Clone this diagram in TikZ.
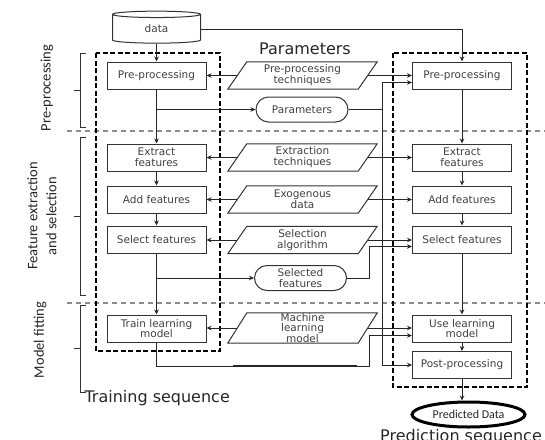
\documentclass[tikz,border=0pt]{standalone}
\usepackage{fontspec}
\setmainfont{DejaVu Sans}
\newfontfamily\calib{Carlito}
\usetikzlibrary{arrows.meta,shapes.geometric,shapes.misc}
\begin{document}
\begin{tikzpicture}[x=1pt,y=-1pt,
  line/.style={draw=black!85, line width=1pt},
  arr/.style={line, -{Stealth[length=5pt,width=4.5pt]}},
  boxfont/.style={font=\fontsize{10.5}{10.8}\selectfont, text=black!75},
  procbox/.style={boxfont, draw=black!80, line width=1pt, minimum width=99pt, minimum height=27pt, inner sep=1pt, align=center},
  ptext/.style={boxfont, minimum width=130pt, minimum height=27pt, inner sep=0pt, align=center},
  term/.style={boxfont, rounded rectangle, draw=black!80, line width=1pt, minimum width=94pt, minimum height=25pt, inner sep=1pt, align=center},
  frame/.style={draw=black, line width=2pt, dash pattern=on 5pt off 2.5pt},
  sep/.style={draw=black!45, line width=1.2pt, dash pattern=on 5pt off 4pt},
  brace/.style={draw=black!80, line width=0.9pt},
  sidelab/.style={font=\calib\fontsize{14.5}{19}\selectfont, rotate=90, align=center, text=black!85},
  biglab/.style={font=\fontsize{16}{18}\selectfont, text=black!85},
]
\useasboundingbox (0,0) rectangle (545,439);

% separators
\draw[sep] (67,131) -- (545,131);
\draw[sep] (67,303) -- (545,303);

% brackets
\draw[brace] (86,53) -- (80,53) -- (80,127) -- (86,127);
\draw[brace] (80,90) -- (74,90);
\draw[brace] (86,137) -- (80,137) -- (80,295) -- (86,295);
\draw[brace] (80,216) -- (74,216);
\draw[brace] (86,305) -- (80,305) -- (80,392) -- (86,392);
\draw[brace] (80,348) -- (74,348);

% side labels
\node[sidelab] (s1) at (47,88) {Pre-processing};
\node[sidelab] (s2) at (42,216) {Feature extraction\\and selection};
\node[sidelab] (s3) at (40,340) {Model fitting};

% frames
\draw[frame] (96,53) rectangle (220,351);
\draw[frame] (393,53) rectangle (527,387);

% data cylinder
\node[cylinder, draw=black!80, line width=1pt, shape border rotate=90, aspect=0.27,
  minimum width=88pt, minimum height=32pt, inner sep=0pt, boxfont] (data) at (156.5,29) {\raisebox{-4pt}{data}};

% title
\node[biglab] (title) at (305,49) {Parameters};

% left column
\node[procbox] (lpre) at (156.5,75.5) {Pre-processing};
\node[procbox] (lext) at (156.5,157.5) {Extract\\features};
\node[procbox] (ladd) at (156.5,199.5) {Add features};
\node[procbox] (lsel) at (156.5,239.5) {Select features};
\node[procbox] (ltrain) at (156.5,328.5) {Train learning\\model};

% right column
\node[procbox] (rpre) at (462,75.5) {Pre-processing};
\node[procbox] (rext) at (462,157.5) {Extract\\features};
\node[procbox] (radd) at (462,199.5) {Add features};
\node[procbox] (rsel) at (462,239.5) {Select features};
\node[procbox] (ruse) at (462,328.5) {Use learning\\model};
\node[procbox] (rpost) at (462,365) {Post-processing};

% parallelograms
\node[ptext] (tpre) at (302.5,75.5) {Pre-processing\\techniques};
\node[ptext] (text) at (302.5,157.5) {Extraction\\techniques};
\node[ptext] (texo) at (302.5,199.5) {Exogenous\\data};
\node[ptext] (tsel) at (302.5,240) {Selection\\algorithm};
\node[ptext] (tml) at (302.5,328) {Machine\\learning\\model};
\foreach \n in {tpre,text,texo,tsel,tml}
  \draw[draw=black!80, line width=1pt]
    ([xshift=9.5pt]\n.north west) -- ([xshift=9.5pt]\n.north east) --
    ([xshift=-9.5pt]\n.south east) -- ([xshift=-9.5pt]\n.south west) -- cycle;

% terminals
\node[term] (params) at (302,109.5) {Parameters};
\node[term] (selfeat) at (300.5,278) {Selected\\features};

% predicted data
\node[ellipse, draw=black, line width=3pt, minimum width=113pt, minimum height=25pt,
  inner sep=0pt, font=\calib\fontsize{12}{13}\selectfont, text=black!85] (pred) at (468.5,414.5) {Predicted Data};

% bottom labels
\node[biglab, anchor=west] (trainlab) at (81,398) {Training sequence};
\node[biglab] (predlab) at (461,437) {Prediction sequence};

% connectors
\draw[arr] (data.270) -- (lpre.north);
\draw[arr] (data.0) -| (rpre.north);

\draw[arr] (lpre.south) -- (lext.north);
\draw[arr] (lext.south) -- (ladd.north);
\draw[arr] (ladd.south) -- (lsel.north);
\draw[arr] (lsel.south) -- (ltrain.north);

\draw[arr] (rpre.south) -- (rext.north);
\draw[arr] (rext.south) -- (radd.north);
\draw[arr] (radd.south) -- (rsel.north);
\draw[arr] (rsel.south) -- (ruse.north);
\draw[arr] (ruse.south) -- (rpost.north);
\draw[arr] (rpost.south) -- (rpost.south |- pred.north);

\foreach \t/\l/\r in {tpre/lpre/rpre, text/lext/rext, texo/ladd/radd, tsel/lsel/rsel, tml/ltrain/ruse}{
  \draw[arr] (\t.west) -- (\t.west -| \l.east);
  \draw[arr] (\t.east) -- (\t.east -| \r.west);
}

\coordinate (pj) at (382,109.5);
\draw[arr] (lpre.south |- params.west) -- (params.west);
\draw[line] (params.east) -- (pj);
\draw[arr] (pj) |- ([yshift=-7pt]rpre.west);
\draw[arr] (pj) |- (rpost.west);

\coordinate (sj) at (369,278);
\draw[arr] (lsel.south |- selfeat.west) -- (selfeat.west);
\draw[arr] (selfeat.east) -- (sj) |- ([yshift=-7pt]rsel.west);

\coordinate (tb) at (156.5,366);
\coordinate (tj) at (369,366);
\draw[arr] (ltrain.south) -- (tb) -- (tj) |- ([yshift=-7pt]ruse.west);
\coordinate (tk1) at (233,366);
\coordinate (tk2) at (357,366);
\draw[line width=2.2pt, black!85] (tk1) -- (tk2);
\end{tikzpicture}
\end{document}
